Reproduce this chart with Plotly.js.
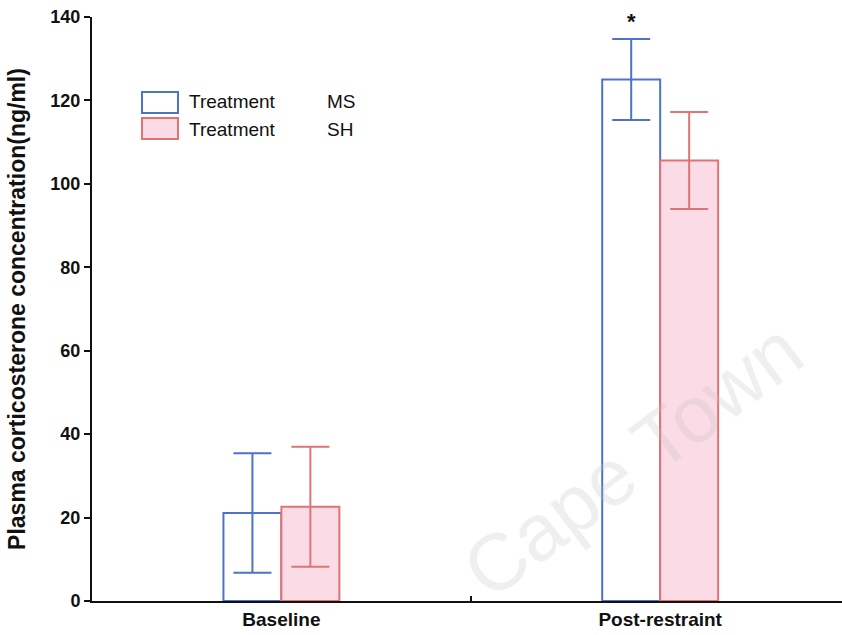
<!DOCTYPE html>
<html>
<head>
<meta charset="utf-8">
<script src="https://cdn.plot.ly/plotly-3.0.1.min.js"></script>
<style>html,body{margin:0;padding:0;background:#fff;}#chart{width:842px;height:635px;}</style>
</head>
<body>
<div id="chart"></div>
<script>
var categories = ['Baseline', 'Post-restraint'];
var msValues = [21.1, 125.0];
var msErrors = [14.3, 9.7];
var shValues = [22.6, 105.6];
var shErrors = [14.4, 11.6];
var legendLabels = ['Treatment', 'Treatment'];
var legendGroups = ['MS', 'SH'];
var yTitle = 'Plasma corticosterone concentration(ng/ml)';

var blue = '#4f72c9';
var red = '#e07474';
var pink = '#fbdbe6';
var FONT = 'Liberation Sans, Arial, sans-serif';

var traces = [
  {
    type: 'bar', name: legendGroups[0], x: categories, y: msValues,
    marker: {color: '#ffffff', line: {color: blue, width: 2}},
    error_y: {type: 'data', array: msErrors, visible: true, color: blue, thickness: 2, width: 19},
    showlegend: false
  },
  {
    type: 'bar', name: legendGroups[1], x: categories, y: shValues,
    marker: {color: pink, line: {color: red, width: 2}},
    error_y: {type: 'data', array: shErrors, visible: true, color: red, thickness: 2, width: 19},
    showlegend: false
  }
];

function px2x(p) { return (p - 92) / 750; }
function py2y(p) { return (601 - p) / 584; }

var shapes = [
  {type: 'rect', xref: 'paper', yref: 'paper', x0: px2x(142), x1: px2x(178), y0: py2y(113), y1: py2y(92),
   line: {color: blue, width: 2}, fillcolor: '#ffffff'},
  {type: 'rect', xref: 'paper', yref: 'paper', x0: px2x(142), x1: px2x(178), y0: py2y(139), y1: py2y(118),
   line: {color: red, width: 2}, fillcolor: pink}
];

var annotations = [
  {xref: 'paper', yref: 'paper', x: px2x(187), y: py2y(102), xanchor: 'left', yanchor: 'middle', showarrow: false,
   text: legendLabels[0], font: {family: FONT, size: 19, color: '#111'}},
  {xref: 'paper', yref: 'paper', x: px2x(325), y: py2y(102), xanchor: 'left', yanchor: 'middle', showarrow: false,
   text: legendGroups[0], font: {family: FONT, size: 19, color: '#111'}},
  {xref: 'paper', yref: 'paper', x: px2x(187), y: py2y(129), xanchor: 'left', yanchor: 'middle', showarrow: false,
   text: legendLabels[1], font: {family: FONT, size: 19, color: '#111'}},
  {xref: 'paper', yref: 'paper', x: px2x(325), y: py2y(129), xanchor: 'left', yanchor: 'middle', showarrow: false,
   text: legendGroups[1], font: {family: FONT, size: 19, color: '#111'}},
  {x: 0.923, y: 139, xref: 'x', yref: 'y', showarrow: false, text: '*',
   font: {family: FONT, size: 22, color: '#111', weight: 'bold'}},
  {xref: 'paper', yref: 'paper', x: px2x(632), y: py2y(460), xanchor: 'center', yanchor: 'middle', showarrow: false,
   text: 'Cape Town', textangle: -37, font: {family: FONT, size: 80, color: 'rgba(190,190,190,0.25)'}}
];

var layout = {
  width: 842, height: 635,
  margin: {l: 92, r: 0, t: 17, b: 34},
  paper_bgcolor: '#fff', plot_bgcolor: 'rgba(0,0,0,0)',
  barmode: 'group', bargap: 0.694, bargroupgap: 0,
  showlegend: false,
  font: {family: FONT, color: '#111'},
  xaxis: {
    type: 'category', range: [-0.5, 1.48], showline: true, linecolor: '#111', linewidth: 2,
    ticks: 'inside', tickson: 'boundaries', ticklen: 5, tickwidth: 1.5, tickcolor: '#111',
    showgrid: false, zeroline: false,
    tickfont: {family: FONT, size: 19, weight: 'bold', color: '#111'}
  },
  yaxis: {
    range: [0, 140], dtick: 20, showline: true, linecolor: '#111', linewidth: 2,
    ticks: 'outside', ticklen: 6, tickwidth: 2, tickcolor: '#111',
    showgrid: false, zeroline: false,
    tickfont: {family: FONT, size: 18, weight: 'bold', color: '#111'},
    title: {text: yTitle, font: {family: FONT, size: 23, weight: 'bold', color: '#111'}, standoff: 18}
  },
  shapes: shapes,
  annotations: annotations
};

Plotly.newPlot('chart', traces, layout, {displayModeBar: false, staticPlot: true});
</script>
</body>
</html>
